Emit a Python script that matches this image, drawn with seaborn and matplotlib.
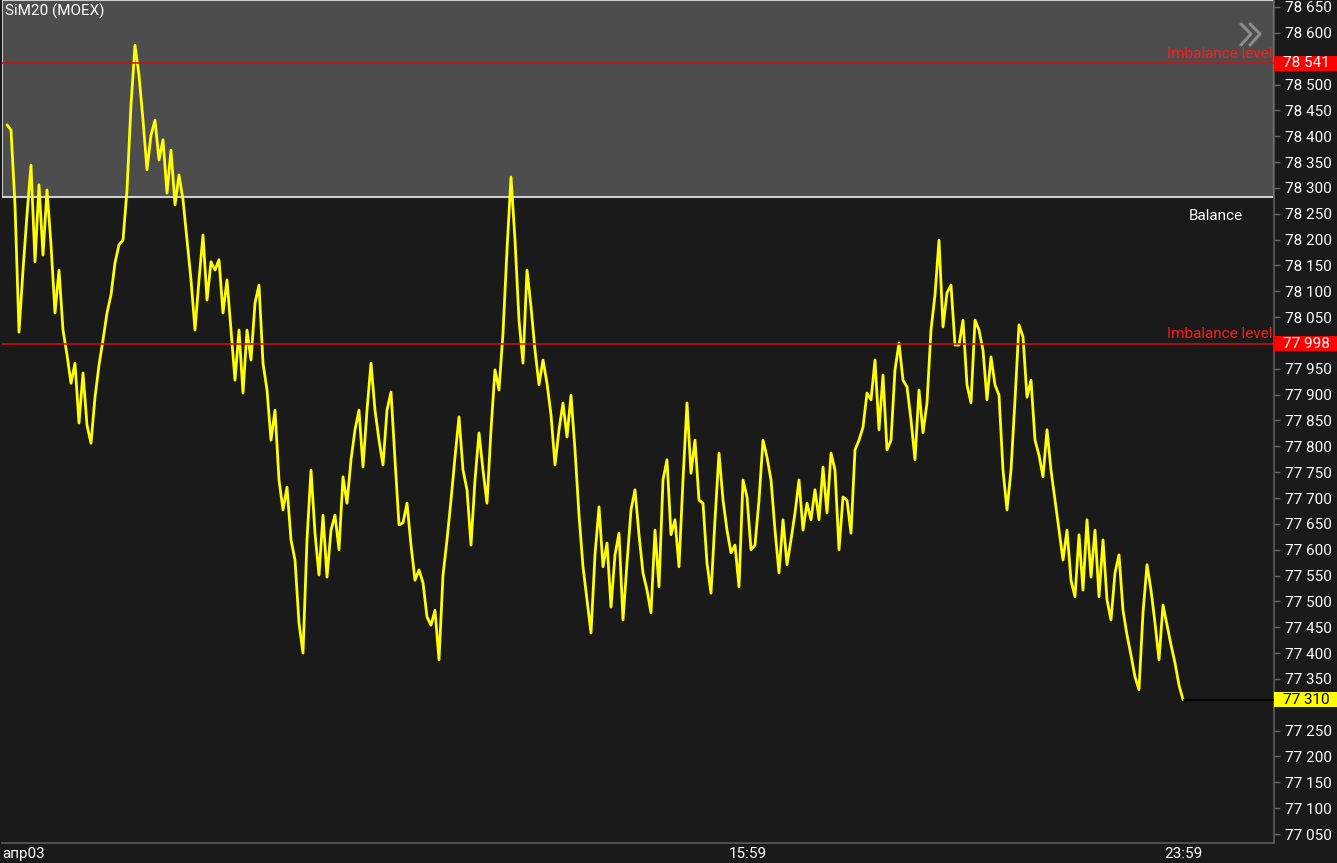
import numpy as np
import seaborn as sns
import matplotlib.pyplot as plt
from matplotlib.patches import Rectangle
from matplotlib.lines import Line2D
from matplotlib.transforms import blended_transform_factory

# SiM20 price samples left to right
prices = [
    78422, 78412, 78267, 78021, 78141, 78248, 78344, 78157, 78306, 78170,
    78296, 78190, 78058, 78141, 78025, 77977, 77922, 77961, 77845, 77942,
    77841, 77806, 77895, 77957, 78006, 78058, 78093, 78155, 78190, 78199,
    78296, 78460, 78576, 78518, 78431, 78335, 78402, 78431, 78354, 78393,
    78290, 78373, 78267, 78325, 78277, 78199, 78122, 78025, 78122, 78209,
    78083, 78157, 78141, 78161, 78058, 78122, 78025, 77928, 78025, 77903,
    78025, 77967, 78077, 78112, 77961, 77909, 77812, 77870, 77735, 77677,
    77721, 77619, 77580, 77458, 77400, 77619, 77754, 77632, 77551, 77667,
    77547, 77638, 77667, 77600, 77741, 77690, 77774, 77832, 77870, 77760,
    77870, 77961, 77870, 77812, 77764, 77870, 77905, 77774, 77648, 77652,
    77690, 77609, 77541, 77561, 77536, 77470, 77454, 77483, 77387, 77551,
    77619, 77696, 77779, 77857, 77754, 77716, 77609, 77735, 77826, 77754,
    77690, 77832, 77948, 77909, 78019, 78180, 78321, 78199, 78044, 77961,
    78141, 78070, 77986, 77919, 77967, 77922, 77861, 77764, 77832, 77884,
    77818, 77899, 77793, 77667, 77567, 77503, 77439, 77590, 77683, 77567,
    77613, 77489, 77590, 77632, 77464, 77574, 77677, 77716, 77629, 77555,
    77522, 77478, 77638, 77528, 77735, 77774, 77629, 77658, 77567, 77735,
    77884, 77748, 77812, 77696, 77690, 77574, 77516, 77658, 77787, 77696,
    77638, 77594, 77609, 77528, 77735, 77702, 77600, 77609, 77696, 77812,
    77779, 77735, 77638, 77555, 77658, 77571, 77619, 77671, 77735, 77638,
    77690, 77658, 77716, 77658, 77760, 77671, 77787, 77754, 77600, 77702,
    77696, 77632, 77793, 77812, 77837, 77903, 77890, 77967, 77832, 77938,
    77793, 77812, 77948, 78000, 77928, 77915, 77851, 77774, 77909, 77826,
    77884, 78025, 78093, 78199, 78031, 78097, 78112, 77996, 77996, 78044,
    77919, 77884, 78044, 78025, 77986, 77890, 77973, 77919, 77899, 77754,
    77677, 77754, 77890, 78035, 78012, 77895, 77928, 77812, 77783, 77741,
    77832, 77754, 77696, 77638, 77580, 77638, 77541, 77509, 77629, 77522,
    77658, 77547, 77638, 77509, 77619, 77503, 77464, 77555, 77590, 77483,
    77435, 77396, 77354, 77329, 77478, 77571, 77522, 77458, 77387, 77493,
    77454, 77416, 77381, 77338, 77310,
]
bars = np.arange(len(prices))

imbalance_levels = [78541, 77998]
balance_low = 78282.5
last_price = 77310

xtick_pos = [-1.25, 185.25, 294]
xtick_labels = ["апр03", "15:59", "23:59"]
yticks = np.arange(77050, 78651, 50)

BG = "#1a1a1a"
W, H = 1337, 863

sns.set_style("dark", {"axes.facecolor": BG, "figure.facecolor": BG})
plt.rcParams["font.family"] = ["Roboto", "DejaVu Sans"]

fig = plt.figure(figsize=(W / 100, H / 100), dpi=100, facecolor=BG)
ax = fig.add_axes([2 / W, 20 / H, 1272 / W, 843 / H])
ax.set_facecolor(BG)

# balance zone
ax.axhspan(balance_low, 78663.5, facecolor="#4d4d4d", edgecolor="#cfcfcf",
           linewidth=1.5, zorder=0.5)

sns.lineplot(x=bars, y=prices, ax=ax, color="#ffff00", linewidth=2.0, zorder=2)

ax.set_xlim(-1.25, 316.75)
ax.set_ylim(77032.6, 78663.5)

mixed = blended_transform_factory(ax.transAxes, ax.transData)

# imbalance lines
for lvl in imbalance_levels:
    ax.axhline(lvl, color="#d01010", linewidth=1.1, zorder=3)
    ax.text(0.9985, lvl + 5, "Imbalance level", color="#ff1a1a", fontsize=11,
            ha="right", va="bottom", transform=mixed)

# last price line
ax.hlines(last_price, bars[-1], 316.75, color="black", linewidth=1.2, zorder=3)

ax.text(0.954, 78245, "Balance", color="white", fontsize=11, ha="center", va="center",
        transform=mixed)

# axes styling
ax.yaxis.tick_right()
ax.set_yticks(yticks)
ax.set_yticklabels([f"{v:,}".replace(",", " ") for v in yticks])
ax.tick_params(axis="y", labelcolor="white", color="#6a6a6a", labelsize=11,
               length=4, width=1, pad=4, right=True, left=False)
ax.set_xticks(xtick_pos)
ax.set_xticklabels(xtick_labels)
ax.tick_params(axis="x", labelcolor="white", color="#6a6a6a", labelsize=11,
               direction="in", length=5, width=1, pad=3)
ax.xaxis.get_major_ticks()[0].tick1line.set_visible(False)
ax.get_xticklabels()[0].set_ha("left")
ax.grid(False)
for side in ["top", "left"]:
    ax.spines[side].set_visible(False)
for side in ["right", "bottom"]:
    ax.spines[side].set_visible(True)
    ax.spines[side].set_color("#5c5c5c")
    ax.spines[side].set_linewidth(1.2)
ax.set_xlabel("")
ax.set_ylabel("")

# price tags on the right axis; the tick labels they cover are hidden
tags = [(imbalance_levels[0], "#ff0000", "white"),
        (imbalance_levels[1], "#ff0000", "white"),
        (last_price, "#ffff00", "black")]
for lbl, v in zip(ax.get_yticklabels(), yticks):
    if any(abs(v - t[0]) < 15 for t in tags):
        lbl.set_visible(False)
for val, fc, tc in tags:
    ax.add_patch(Rectangle((1.0, val - 14.5), 63 / 1272, 29, transform=mixed,
                           facecolor=fc, edgecolor="none", clip_on=False, zorder=6))
    ax.text(1.0256, val, f"{val:,}".replace(",", " "), color=tc, fontsize=11,
            ha="center", va="center", transform=mixed, zorder=7, clip_on=False)

fig.text(5 / W, 1 - 11 / H, "SiM20 (MOEX)", color="white", fontsize=11,
         ha="left", va="center")

# double chevron in the top-right corner
for dx in (0, 9):
    fig.add_artist(Line2D([(1241 + dx) / W, (1251 + dx) / W, (1241 + dx) / W],
                          [1 - 24 / H, 1 - 34 / H, 1 - 45 / H],
                          color="#8c8c8c", linewidth=2.2))

fig.savefig("out.png", dpi=100, facecolor=BG)
